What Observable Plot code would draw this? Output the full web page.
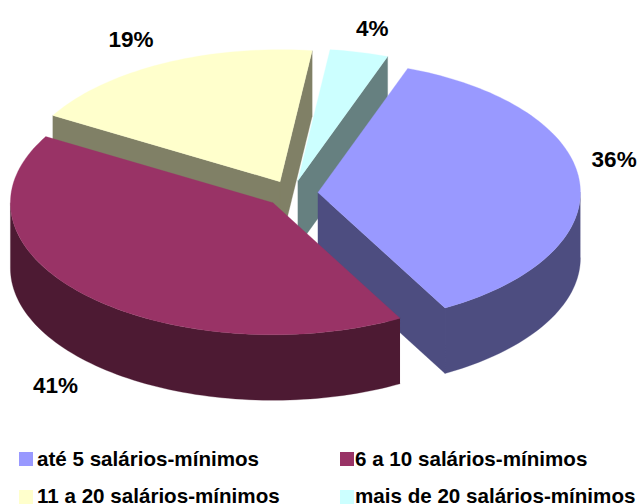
<!DOCTYPE html>
<html><head><meta charset="utf-8">
<script src="https://cdn.jsdelivr.net/npm/d3@7"></script>
<script src="https://cdn.jsdelivr.net/npm/@observablehq/plot@0.6"></script>
<style>
html,body{margin:0;padding:0;background:#fff;width:639px;height:504px;overflow:hidden}
#chart{position:relative;width:639px;height:504px;overflow:hidden;font-family:"Liberation Sans",Arial,sans-serif}
#chart svg{display:block;position:absolute;left:0;top:0}
.lg{position:absolute;font-weight:bold;font-size:20.6px;line-height:16px;color:#000;white-space:nowrap}
.sw{position:absolute;width:14px;height:14px}
</style></head><body><div id="chart"></div>
<script>
// Data
const categories = ["até 5 salários-mínimos","6 a 10 salários-mínimos","11 a 20 salários-mínimos","mais de 20 salários-mínimos"];
const values = [36.4, 41.4, 18.6, 3.6];
const labels = ["36%","41%","19%","4%"];
const topColors = ["#9999ff","#993366","#ffffcc","#ccffff"];
const sideColors = ["#4d4d80","#4d1a33","#808066","#668080"];

// Pie projection settings
const W=639,H=504,cx=291.2,cy=193,rx=262.5,ry=132,depth=65.5,explode=26.3,startDeg=20;
const labelShift=[[34.5,-22],[-30,91],[-32,-24],[13,-24]];
const drawOrder=[2,3,0,1];
const rad=d=>d*Math.PI/180;

const total=d3.sum(values);
let cum=startDeg;
const slices=values.map((v,i)=>{
  const a0=cum,a1=cum+v/total*360;cum=a1;
  const mid=rad((a0+a1)/2);
  return {i,a0,a1,mid,ox:cx+explode*Math.sin(mid),oy:cy-explode*Math.cos(mid)*ry/rx};
});
const rim=(s,t)=>({x:s.ox+rx*Math.sin(rad(t)),y:s.oy-ry*Math.cos(rad(t))});
const arc=(s,a,b)=>{const n=Math.max(2,Math.ceil(Math.abs(b-a)/1.5));return d3.range(n+1).map(k=>rim(s,a+(b-a)*k/n));};
const down=p=>({x:p.x,y:p.y+depth});

const marks=[];
const face=(pts,fill)=>marks.push(Plot.line(pts,{x:"x",y:"y",fill,stroke:fill,strokeWidth:0.3}));
for(const i of drawOrder){
  const s=slices[i],apex={x:s.ox,y:s.oy};
  for(const [t,sign] of [[s.a0,-1],[s.a1,1]]){
    if(sign*Math.sin(rad(t))>0){
      const p=rim(s,t);
      face([apex,p,down(p),down(apex),apex],sideColors[i]);
    }
  }
  // outer wall: only the near half of the rim is seen
  for(const off of [0,360]){
    const a=Math.max(s.a0,90+off),b=Math.min(s.a1,270+off);
    if(b>a){const e=arc(s,a,b);face([...e,...e.map(down).reverse()],sideColors[i]);}
  }
  face([apex,...arc(s,s.a0,s.a1),apex],topColors[i]);
}
const labelData=slices.map(s=>{const p=rim(s,s.mid*180/Math.PI);return{x:p.x+labelShift[s.i][0],y:p.y+labelShift[s.i][1],t:labels[s.i]};});
marks.push(Plot.text(labelData,{x:"x",y:"y",text:"t",fontSize:22.5,fontWeight:"bold",fill:"#000",textAnchor:"middle",lineAnchor:"middle"}));

const plot=Plot.plot({width:W,height:440,margin:0,
  x:{domain:[0,W],range:[0,W],axis:null},
  y:{domain:[0,440],range:[0,440],axis:null},
  style:{fontFamily:'"Liberation Sans",Arial,sans-serif',background:"transparent",overflow:"visible"},
  marks});
const root=document.getElementById("chart");
root.appendChild(plot);
const lx=[19,339.5],swY=[452,490],textY=[451,487.5],tx=[37,355];
categories.forEach((c,i)=>{
  const col=i%2,row=i>>1;
  const sw=document.createElement("div");sw.className="sw";sw.style.cssText=`left:${lx[col]}px;top:${swY[row]}px;background:${topColors[i]}`;
  const t=document.createElement("div");t.className="lg";t.textContent=c;t.style.cssText=`left:${tx[col]}px;top:${textY[row]}px`;
  root.append(sw,t);
});
</script></body></html>
